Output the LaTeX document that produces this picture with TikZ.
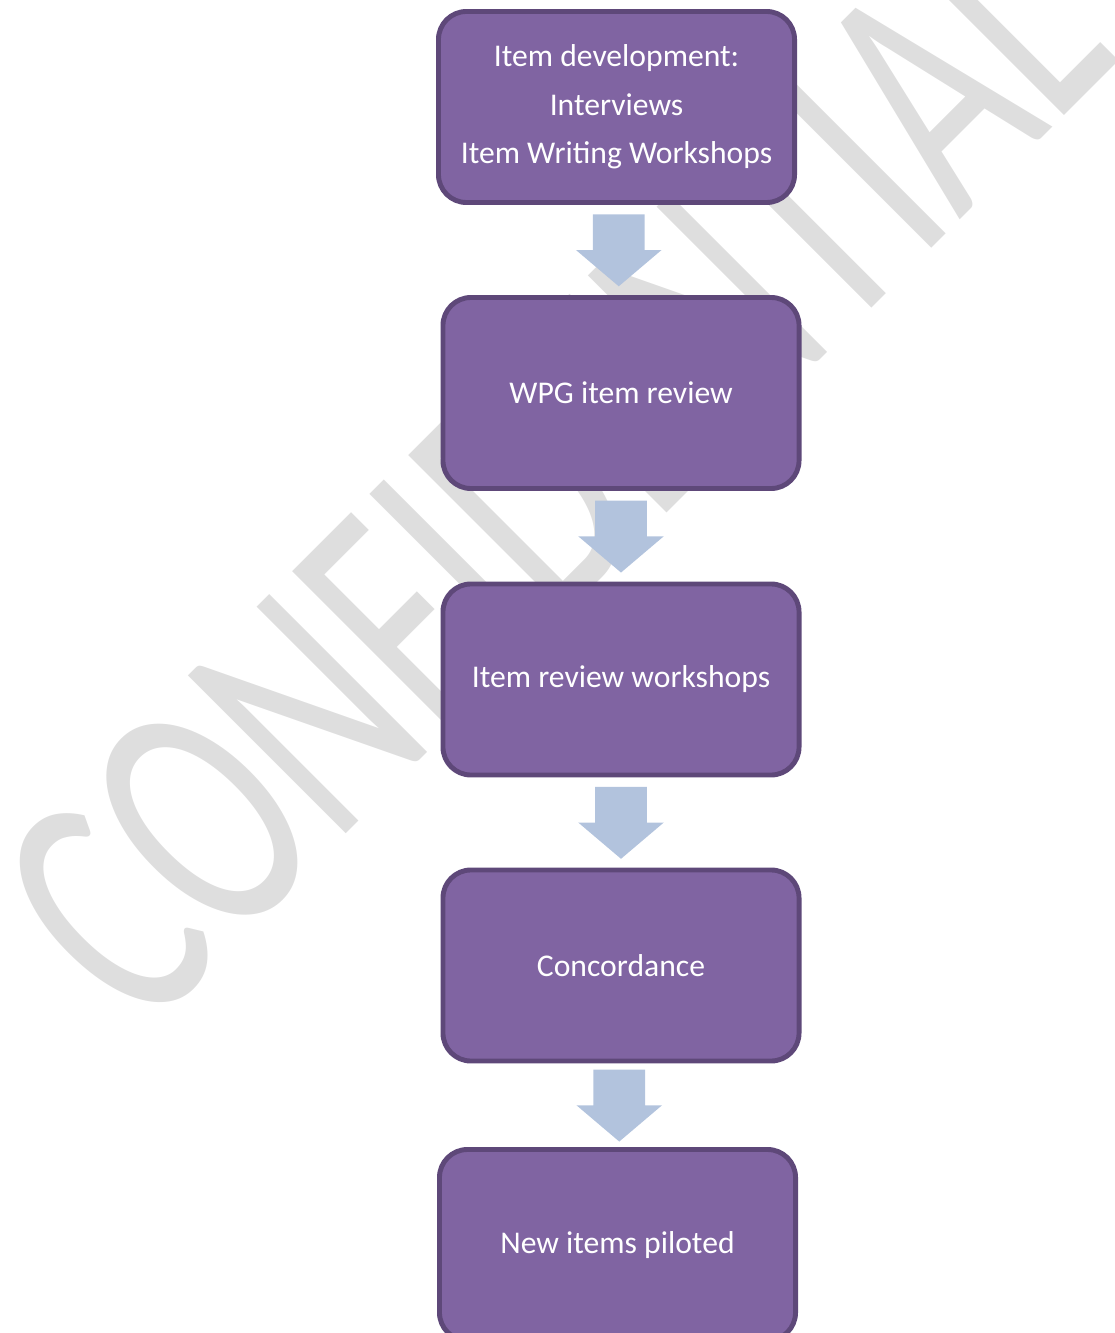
\documentclass[tikz,border=0pt]{standalone}
\usepackage{fontspec}
\setmainfont{Carlito}
\usetikzlibrary{calc,shapes.arrows}
\definecolor{boxfill}{HTML}{8064A2}
\definecolor{boxline}{HTML}{5E4879}
\definecolor{arrowfill}{HTML}{B2C3DD}
\definecolor{markgray}{HTML}{DEDEDE}

\begin{document}
\begin{tikzpicture}[x=0.025cm, y=-0.025cm,
          block/.style = {draw=boxline, fill=boxfill, line width=3.5pt, rounded corners=0.7cm, minimum width=8.9cm, minimum height=4.775cm, align=center, text=white, font=\fontsize{22.5}{34.5}\selectfont},
          flow/.style = {single arrow, fill=arrowfill, rotate=-90, anchor=tail, minimum height=1.8cm, minimum width=2.125cm, single arrow head extend=0.425cm, single arrow tip angle=99.4, inner xsep=0pt, inner ysep=0.6375cm},
          watermark/.style = {text=markgray, inner sep=0pt, font=\fontsize{247.5}{247.5}\selectfont}
        ]

        \clip (0,0) rectangle (1115,1333);
        \node[watermark, rotate=45, anchor=base west] (conf) at (142,1038) {\scalebox{0.66}[1]{CONFIDENTIAL}};

        \node[block] (dev) at (616.5,107) {Item development:\\Interviews\\Item Writing Workshops};
        \node[block] (wpg) at (621,393) {WPG item review};
        \node[block] (review) at (621,679.5) {Item review workshops};
        \node[block] (conc) at (621,965.5) {Concordance};
        \node[block] (pilot) at (617.5,1245) {New items piloted};

        \node[flow] (a1) at ($(dev.south)!0.5!(wpg.north)+(0,-36)$) {};
        \node[flow] (a2) at ($(wpg.south)!0.5!(review.north)+(0,-36)$) {};
        \node[flow] (a3) at ($(review.south)!0.5!(conc.north)+(0,-36)$) {};
        \node[flow] (a4) at ($(conc.south)!0.5!(pilot.north)+(0,-36)$) {};
      \end{tikzpicture}
\end{document}
